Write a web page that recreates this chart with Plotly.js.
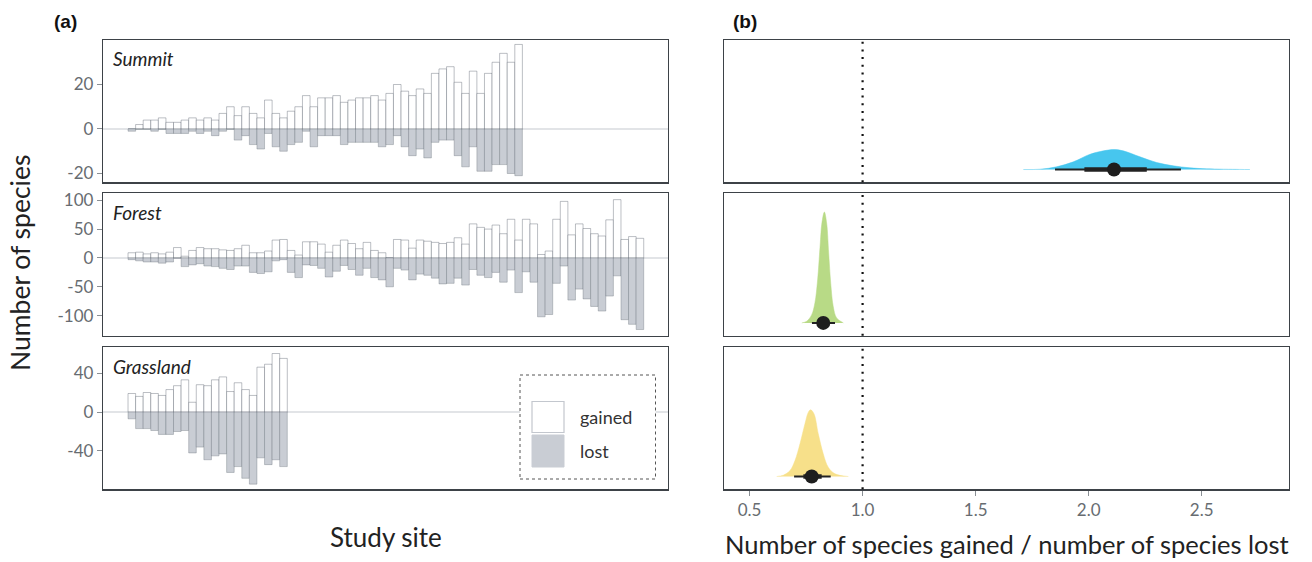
<!DOCTYPE html>
<html>
<head>
<meta charset="utf-8">
<script src="https://cdn.plot.ly/plotly-3.0.1.min.js"></script>
<style>html,body{margin:0;padding:0;background:#fff;}#chart{width:1312px;height:562px;}</style>
</head>
<body>
<div id="chart"></div>
<script>
// ---------- Panel (a) data: species gained / lost per study site ----------
const summitGained = [0,2,4,4,5,3,3,4,5,4,5,4,7,10,6,10,7,5,13,7,5,8,10,15,10,14,14,15,12,13,14,14,15,13,16,20,17,15,18,16,25,27,28,21,16,26,16,25,30,34,30,38];
const summitLost   = [1,0,0,1,0,2,2,2,1,2,1,3,1,0,5,3,7,9,2,8,10,7,6,1,8,3,3,3,7,6,6,6,6,8,7,3,8,12,9,13,6,5,5,12,17,8,19,19,16,16,20,21];
const forestGained = [9,10,7,9,7,10,18,3,13,18,16,16,14,13,16,22,9,9,12,31,32,13,5,28,28,24,10,22,31,25,16,27,13,9,0,32,31,17,31,29,27,25,27,35,24,59,53,50,57,42,67,31,67,59,6,12,67,98,40,59,51,42,38,66,101,32,37,34];
const forestLost   = [3,5,7,7,9,7,0,15,12,10,14,15,18,20,14,14,25,27,24,5,3,25,34,12,13,18,33,23,13,20,30,18,34,38,50,18,21,38,28,30,35,45,44,35,47,20,30,34,25,42,21,60,24,42,102,98,44,14,73,54,71,84,92,66,31,107,115,124];
const grassGained  = [19,16,20,19,17,23,27,33,10,28,27,33,36,21,30,23,17,46,49,60,55];
const grassLost    = [7,17,17,19,23,23,20,19,42,36,49,45,43,62,56,68,74,47,54,49,56];
const habitats = ["Summit","Forest","Grassland"];
const summitTicks = [-20,0,20];
const forestTicks = [-100,-50,0,50,100];
const grassTicks  = [-40,0,40];

// ---------- Panel (b) data: posterior of gained/lost ratio ----------
const summitDensX = [1.711,1.785,1.858,1.932,2.006,2.065,2.112,2.153,2.227,2.301,2.374,2.448,2.522,2.669,2.713];
const summitDensY = [0,0.3,2.7,7.7,15.3,18.7,20,18.7,12.7,7,3.7,1.7,0.7,0.1,0];
const forestDensX = [0.731,0.753,0.775,0.789,0.801,0.812,0.820,0.831,0.841,0.850,0.859,0.870,0.885,0.915];
const forestDensY = [0,1.7,8.3,20,43,77,100,111,100,70,40,16.7,5,0];
const grassDensX  = [0.620,0.649,0.679,0.701,0.723,0.745,0.760,0.770,0.785,0.804,0.826,0.848,0.878,0.937];
const grassDensY  = [0,1.3,6,16,32.7,52.7,64.3,66.7,62.7,42.7,22.7,9.3,2.7,0];
// point estimate, thick (inner) interval, thin (outer) interval
const summitStats = {pt:2.112, thick:[1.981,2.257], thin:[1.851,2.408]};
const forestStats = {pt:0.826, thick:[0.808,0.848], thin:[0.776,0.878]};
const grassStats  = {pt:0.775, thick:[0.738,0.819], thin:[0.697,0.859]};
const ratioTicks = [0.5,1.0,1.5,2.0,2.5];
const ratioTickText = ["0.5","1.0","1.5","2.0","2.5"];

const densColors = ["#47c6ee","#b8da86","#f7e08a"];
const FONT = "Lato, 'Open Sans', sans-serif";
const W = 1312, H = 562;
const px = v => v / W;
const py = v => 1 - v / H;

const gainedLine = "rgba(80,88,100,0.38)";
const lostLine = "rgba(80,88,100,0.30)";
const lostFill = "#c9cdd4";

const traces = [];
function barPair(g, l, xa, ya) {
  const sites = g.map((_, i) => i + 1);
  traces.push({type:"bar", x:sites, y:g, width:1, xaxis:xa, yaxis:ya,
    marker:{color:"rgba(255,255,255,1)", line:{color:gainedLine, width:1}}, hoverinfo:"skip"});
  traces.push({type:"bar", x:sites, y:l.map(v => -v), width:1, xaxis:xa, yaxis:ya,
    marker:{color:lostFill, line:{color:lostLine, width:1}}, hoverinfo:"skip"});
}
barPair(summitGained, summitLost, "x", "y");
barPair(forestGained, forestLost, "x2", "y2");
barPair(grassGained, grassLost, "x3", "y3");

function halfEye(dx, dy, st, col, xa, ya) {
  traces.push({type:"scatter", mode:"lines", x:dx, y:dy, xaxis:xa, yaxis:ya, fill:"tozeroy",
    fillcolor:col, line:{color:col, width:0.5, shape:"spline"}, hoverinfo:"skip"});
  traces.push({type:"scatter", mode:"lines", x:st.thin, y:[0,0], xaxis:xa, yaxis:ya,
    line:{color:"#222", width:2}, hoverinfo:"skip"});
  traces.push({type:"scatter", mode:"lines", x:st.thick, y:[0,0], xaxis:xa, yaxis:ya,
    line:{color:"#222", width:4.5}, hoverinfo:"skip"});
  traces.push({type:"scatter", mode:"markers", x:[st.pt], y:[0], xaxis:xa, yaxis:ya,
    marker:{color:"#1e1e1e", size:14}, hoverinfo:"skip"});
}
halfEye(summitDensX, summitDensY, summitStats, densColors[0], "x4", "y4");
halfEye(forestDensX, forestDensY, forestStats, densColors[1], "x5", "y5");
halfEye(grassDensX, grassDensY, grassStats, densColors[2], "x6", "y6");

const axLine = "#3d4247";
const tickFont = {family:FONT, size:17, color:"#676c71"};
const domA = [px(103), px(668)];
const domB = [px(724), px(1289)];
const rows = [[py(182.3), py(40)], [py(335.7), py(193.3)], [py(489.3), py(346.7)]];

function xA(anchor) {
  return {domain:domA, range:[-2.8, 71.7], anchor:anchor, showline:true, mirror:true,
    linecolor:axLine, linewidth:1.2, showgrid:false, zeroline:false, showticklabels:false, ticks:""};
}
function yA(dom, range, tv, anchor) {
  return {domain:dom, range:range, anchor:anchor, showline:true, mirror:true, linecolor:axLine,
    linewidth:1.2, showgrid:false, zeroline:true, zerolinecolor:"#e2e4e7", zerolinewidth:1.5,
    tickvals:tv, ticktext:tv.map(String), ticks:"outside", ticklen:5, tickcolor:"#8a8f94",
    tickfont:tickFont};
}
function xB(anchor, labels) {
  return {domain:domB, range:[0.387, 2.886], anchor:anchor, showline:true, mirror:true,
    linecolor:axLine, linewidth:1.2, showgrid:false, zeroline:false,
    tickvals:ratioTicks, ticktext:ratioTickText, showticklabels:labels,
    ticks:labels ? "outside" : "", ticklen:5, tickcolor:"#8a8f94", tickfont:tickFont};
}
function yB(dom, anchor) {
  return {domain:dom, range:[-12.8, 129.8], anchor:anchor, showline:true, mirror:true,
    linecolor:axLine, linewidth:1.2, showgrid:false, zeroline:false, showticklabels:false, ticks:""};
}

const shapes = [];
// dotted reference line at ratio = 1
[["x4","y4"],["x5","y5"],["x6","y6"]].forEach(([xa, ya]) => {
  shapes.push({type:"line", xref:xa, yref:ya + " domain", x0:1, x1:1, y0:0, y1:1,
    line:{color:"#111", width:2.2, dash:"2px,5.7px"}, layer:"above"});
});
// legend box
shapes.push({type:"rect", xref:"paper", yref:"paper", x0:px(520), x1:px(655.5), y0:py(479), y1:py(375),
  fillcolor:"#fff", line:{color:"#555", width:1, dash:"3px,3px"}, layer:"above"});
shapes.push({type:"rect", xref:"paper", yref:"paper", x0:px(532), x1:px(564), y0:py(432.5), y1:py(401.5),
  fillcolor:"#fff", line:{color:"#c3c7ce", width:1.2}, layer:"above"});
shapes.push({type:"rect", xref:"paper", yref:"paper", x0:px(532), x1:px(564), y0:py(467), y1:py(435),
  fillcolor:lostFill, line:{color:lostFill, width:1}, layer:"above"});

const labelY = [58, 212, 366];
const annotations = habitats.map((h, i) => ({text:h, xref:"paper", yref:"paper", x:px(111), y:py(labelY[i]),
  xanchor:"left", yanchor:"middle", showarrow:false,
  font:{family:FONT, size:19, color:"#222", style:"italic"}}));
annotations.push(
  {text:"<b>(a)</b>", xref:"paper", yref:"paper", x:px(65), y:py(22), xanchor:"center", yanchor:"middle",
    showarrow:false, font:{family:"'Liberation Sans', Arial, sans-serif", size:19, color:"#111"}},
  {text:"<b>(b)</b>", xref:"paper", yref:"paper", x:px(745), y:py(22), xanchor:"center", yanchor:"middle",
    showarrow:false, font:{family:"'Liberation Sans', Arial, sans-serif", size:19, color:"#111"}},
  {text:"Number of species", xref:"paper", yref:"paper", x:px(20), y:py(263), textangle:-90,
    xanchor:"center", yanchor:"middle", showarrow:false, font:{family:FONT, size:26.5, color:"#222"}},
  {text:"Study site", xref:"paper", yref:"paper", x:px(386), y:py(537), xanchor:"center", yanchor:"middle",
    showarrow:false, font:{family:FONT, size:26, color:"#222"}},
  {text:"Number of species gained / number of species lost", xref:"paper", yref:"paper", x:px(1007), y:py(544),
    xanchor:"center", yanchor:"middle", showarrow:false, font:{family:FONT, size:25.5, color:"#222"}},
  {text:"gained", xref:"paper", yref:"paper", x:px(578), y:py(417), xanchor:"left", yanchor:"middle",
    showarrow:false, font:{family:FONT, size:18, color:"#333"}},
  {text:"lost", xref:"paper", yref:"paper", x:px(578), y:py(451), xanchor:"left", yanchor:"middle",
    showarrow:false, font:{family:FONT, size:18, color:"#333"}}
);

const layout = {
  width:W, height:H, margin:{l:0, r:0, t:0, b:0}, paper_bgcolor:"#fff", plot_bgcolor:"#fff",
  showlegend:false, barmode:"overlay", bargap:0, font:{family:FONT},
  xaxis:xA("y"), xaxis2:xA("y2"), xaxis3:xA("y3"),
  yaxis:yA(rows[0], [-23.96, 40], summitTicks, "x"),
  yaxis2:yA(rows[1], [-134.7, 112], forestTicks, "x2"),
  yaxis3:yA(rows[2], [-79.3, 67], grassTicks, "x3"),
  xaxis4:xB("y4", false), xaxis5:xB("y5", false), xaxis6:xB("y6", true),
  yaxis4:yB(rows[0], "x4"), yaxis5:yB(rows[1], "x5"), yaxis6:yB(rows[2], "x6"),
  shapes:shapes, annotations:annotations
};
Plotly.newPlot("chart", traces, layout, {staticPlot:true, displayModeBar:false});
</script>
</body>
</html>
